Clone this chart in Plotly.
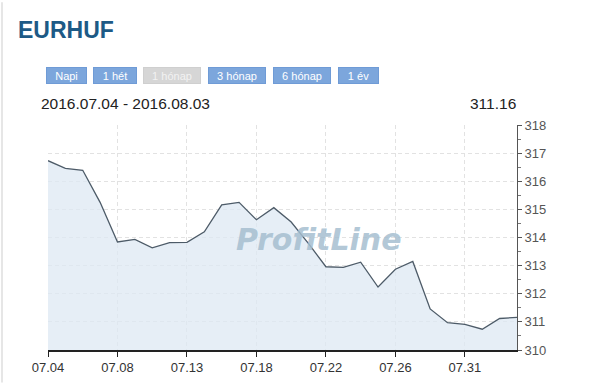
import plotly.graph_objects as go

# ---- data ----
values = [316.73, 316.46, 316.39, 315.25, 313.84, 313.93, 313.63, 313.82, 313.83,
          314.20, 315.16, 315.25, 314.63, 315.06, 314.55, 313.78, 312.96, 312.94,
          313.12, 312.24, 312.87, 313.15, 311.46, 310.97, 310.91, 310.74, 311.12, 311.16]
tick_labels = ["07.04", "07.08", "07.13", "07.18", "07.22", "07.26", "07.31"]
tick_step = 4
y_ticks = [310, 311, 312, 313, 314, 315, 316, 317, 318]
buttons = ["Napi", "1 hét", "1 hónap", "3 hónap", "6 hónap", "1 év"]
active_button = "1 hónap"
title = "EURHUF"
date_range = "2016.07.04 - 2016.08.03"
last_value = "311.16"

W, H = 594, 387
L, R, T, B = 48, 77, 125, 33
PW, PH = W - L - R, H - T - B

def px(xp):
    return (xp - L) / PW

def py(yp):
    return (H - B - yp) / PH

x = list(range(len(values)))

fig = go.Figure()
fig.add_trace(go.Scatter(
    x=x, y=values, mode="lines",
    line=dict(color="#4d5b68", width=1.3),
    fill="tozeroy", fillcolor="rgba(222,232,243,0.75)",
    hoverinfo="skip", showlegend=False,
))

annotations = []
annotations.append(dict(text="<b>" + title + "</b>", x=px(16), y=py(28), xref="paper", yref="paper",
                        xanchor="left", yanchor="middle", showarrow=False,
                        font=dict(family="Liberation Sans, Arial", size=23, color="#1d5a86")))

btn_pos = [(47, 86), (94, 136), (144, 200), (209, 265), (274, 330), (339, 378)]
for name, (a, b) in zip(buttons, btn_pos):
    active = name == active_button
    annotations.append(dict(
        text=name, x=px((a + b) / 2), y=py(75), xref="paper", yref="paper",
        xanchor="center", yanchor="middle", showarrow=False,
        width=b - a - 2, height=13,
        bgcolor="#d6d6d6" if active else "#7ca6dc",
        bordercolor="#cfcfcf" if active else "#6f9bd6", borderwidth=1, borderpad=1,
        font=dict(family="Liberation Sans, Arial", size=11, color="#f2f2f2" if active else "#ffffff"),
    ))

annotations.append(dict(text=date_range, x=px(39), y=py(103), xref="paper", yref="paper",
                        xanchor="left", yanchor="middle", showarrow=False,
                        font=dict(family="Liberation Sans, Arial", size=15.5, color="#222222")))
annotations.append(dict(text=last_value, x=px(518), y=py(103), xref="paper", yref="paper",
                        xanchor="right", yanchor="middle", showarrow=False,
                        font=dict(family="Liberation Sans, Arial", size=15.5, color="#222222")))
annotations.append(dict(text="<b><i>ProfitLine</i></b>", x=px(319), y=py(242), xref="paper", yref="paper",
                        xanchor="center", yanchor="middle", showarrow=False,
                        font=dict(family="DejaVu Sans", size=30, color="rgba(165,190,208,0.85)")))

fig.update_layout(
    width=W, height=H,
    margin=dict(l=L, r=R, t=T, b=B),
    paper_bgcolor="white", plot_bgcolor="white",
    annotations=annotations,
    shapes=[dict(type="line", xref="paper", yref="paper", x0=px(2), x1=px(2), y0=py(0), y1=py(H),
                 line=dict(color="#e6e6e6", width=2))],
    xaxis=dict(
        range=[0, len(values) - 1],
        tickvals=[i * tick_step for i in range(len(tick_labels))],
        ticktext=tick_labels,
        showgrid=True, gridcolor="#e2e2e2", griddash="4px,3px", gridwidth=1,
        showline=True, linecolor="#222222", linewidth=1.5,
        ticks="outside", ticklen=5, tickcolor="#222222",
        tickfont=dict(family="Liberation Sans, Arial", size=13, color="#333333"),
        zeroline=False, fixedrange=True,
    ),
    yaxis=dict(
        range=[310, 318], side="right",
        tickvals=y_ticks,
        showgrid=True, gridcolor="#e2e2e2", griddash="4px,3px", gridwidth=1,
        showline=True, linecolor="#555555", linewidth=1,
        ticks="outside", ticklen=4, tickcolor="#555555",
        minor=dict(dtick=0.5, ticks="outside", ticklen=3, tickcolor="#777777", showgrid=False),
        tickfont=dict(family="Liberation Sans, Arial", size=13, color="#555555"),
        zeroline=False, fixedrange=True,
    ),
)

fig.write_html("out.html")
